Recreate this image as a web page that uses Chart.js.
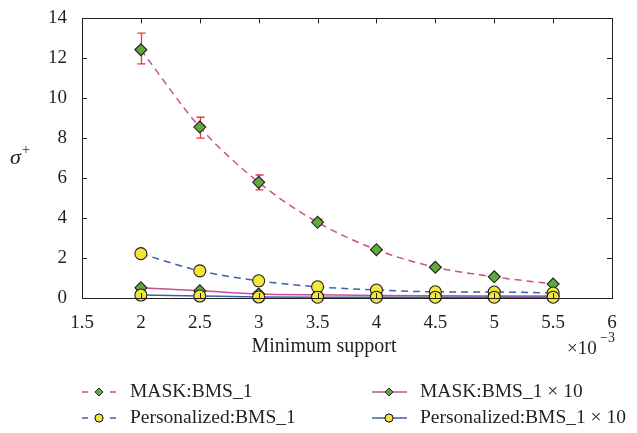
<!DOCTYPE html>
<html>
<head>
<meta charset="utf-8">
<script src="https://cdn.jsdelivr.net/npm/chart.js@4/dist/chart.umd.min.js"></script>
<style>
    html, body { margin: 0; padding: 0; background: #fff; }
    #wrap { width: 637px; height: 433px; position: relative; }
</style>
</head>
<body>
<div id="wrap"><canvas id="sigmaChart" width="637" height="433"></canvas></div>
<script>
(function () {
    var supports = [2, 2.5, 3, 3.5, 4, 4.5, 5, 5.5];
    var maskBms = [12.43, 8.56, 5.79, 3.79, 2.42, 1.54, 1.06, 0.70];
    var maskErrLow = [11.72, 8.01, 5.41, 3.65, 2.35, 1.50, 1.03, 0.68];
    var maskErrHigh = [13.26, 9.05, 6.16, 3.95, 2.50, 1.58, 1.09, 0.72];
    var persBms = [2.22, 1.36, 0.86, 0.56, 0.40, 0.31, 0.30, 0.25];
    var maskBms10 = [0.51, 0.36, 0.20, 0.16, 0.13, 0.11, 0.10, 0.10];
    var persBms10 = [0.15, 0.10, 0.05, 0.04, 0.04, 0.04, 0.04, 0.04];
    var xTicks = [1.5, 2, 2.5, 3, 3.5, 4, 4.5, 5, 5.5, 6];
    var yTicks = [0, 2, 4, 6, 8, 10, 12, 14];

    var ink = '#231f20';
    var pink = '#c9508f';
    var blue = '#3d5fae';
    var green = '#5cab3c';
    var yellow = '#f2e63a';
    var serif = "'Liberation Serif', 'DejaVu Serif', serif";

    Chart.defaults.font.family = serif;
    Chart.defaults.color = ink;

    function pts(ys) {
        return supports.map(function (x, i) { return { x: x, y: ys[i] }; });
    }

    var legendItems = [
        { label: 'MASK:BMS_1', color: pink, dash: [6, 22], shape: 'rectRot', fill: green, col: 0, row: 0 },
        { label: 'Personalized:BMS_1', color: blue, dash: [6, 22], shape: 'circle', fill: yellow, col: 0, row: 1 },
        { label: 'MASK:BMS_1 \u00d7 10', color: pink, dash: [], shape: 'rectRot', fill: green, col: 1, row: 0 },
        { label: 'Personalized:BMS_1 \u00d7 10', color: blue, dash: [], shape: 'circle', fill: yellow, col: 1, row: 1 }
    ];

    var framePlugin = {
        id: 'frame',
        beforeDatasetsDraw: function (chart) {
            var ctx = chart.ctx;
            var xs = chart.scales.x;
            var ys = chart.scales.y;

            // error bars on the MASK:BMS_1 series, under the markers
            ctx.save();
            ctx.strokeStyle = '#e8373f';
            ctx.lineWidth = 1.3;
            supports.forEach(function (s, i) {
                var px = Math.round(xs.getPixelForValue(s)) + 0.5;
                var y1 = ys.getPixelForValue(maskErrLow[i]);
                var y2 = ys.getPixelForValue(maskErrHigh[i]);
                ctx.beginPath();
                ctx.moveTo(px, y1); ctx.lineTo(px, y2);
                ctx.moveTo(px - 4, y1); ctx.lineTo(px + 4, y1);
                ctx.moveTo(px - 4, y2); ctx.lineTo(px + 4, y2);
                ctx.stroke();
            });
            ctx.restore();
        },
        afterDraw: function (chart) {
            var ctx = chart.ctx;
            var a = chart.chartArea;
            var xs = chart.scales.x;
            var ys = chart.scales.y;

            ctx.save();
            ctx.strokeStyle = ink;
            ctx.lineWidth = 1;
            ctx.strokeRect(Math.round(a.left) + 0.5, Math.round(a.top) + 0.5,
                Math.round(a.right - a.left), Math.round(a.bottom - a.top));

            ctx.beginPath();
            yTicks.forEach(function (v) {
                var py = Math.round(ys.getPixelForValue(v)) + 0.5;
                ctx.moveTo(a.left, py); ctx.lineTo(a.left + 5, py);
                ctx.moveTo(a.right, py); ctx.lineTo(a.right - 5, py);
            });
            xTicks.forEach(function (v) {
                var px = Math.round(xs.getPixelForValue(v)) + 0.5;
                ctx.moveTo(px, a.bottom); ctx.lineTo(px, a.bottom - 5);
                ctx.moveTo(px, a.top); ctx.lineTo(px, a.top + 5);
            });
            ctx.stroke();

            // axis titles
            ctx.fillStyle = ink;
            ctx.font = '20px ' + serif;
            ctx.textAlign = 'center';
            ctx.textBaseline = 'middle';
            ctx.fillText('Minimum support', 324, 347);

            ctx.font = 'italic 22px ' + serif;
            ctx.textAlign = 'left';
            ctx.fillText('\u03c3', 10, 158);
            ctx.font = '14px ' + serif;
            ctx.fillText('+', 22, 150);

            ctx.font = '19px ' + serif;
            ctx.textBaseline = 'alphabetic';
            ctx.fillText('\u00d710', 567, 354);
            ctx.font = '14px ' + serif;
            ctx.fillText('\u22123', 600, 342);

            // legend
            legendItems.forEach(function (it) {
                var x0 = it.col === 0 ? 82 : 372;
                var y0 = it.row === 0 ? 392 : 418;
                ctx.strokeStyle = it.color;
                ctx.lineWidth = 1.3;
                ctx.setLineDash(it.dash);
                ctx.beginPath();
                ctx.moveTo(x0, y0); ctx.lineTo(x0 + 35, y0);
                ctx.stroke();
                ctx.setLineDash([]);
                ctx.fillStyle = it.fill;
                ctx.strokeStyle = ink;
                ctx.lineWidth = 1;
                Chart.helpers.drawPoint(ctx, { pointStyle: it.shape, radius: 4, borderWidth: 1 }, x0 + 17, y0);
                ctx.fill();
                ctx.stroke();
                ctx.fillStyle = ink;
                ctx.font = '19.5px ' + serif;
                ctx.textBaseline = 'middle';
                ctx.fillText(it.label, x0 + 48, y0);
            });
            ctx.restore();
        }
    };

    function line(label, data, color, dashed, shape, fill) {
        return {
            label: label,
            data: pts(data),
            borderColor: color,
            borderWidth: 1.5,
            borderDash: dashed ? [7, 5] : [],
            cubicInterpolationMode: 'monotone',
            pointStyle: shape,
            pointRadius: 6,
            pointBackgroundColor: fill,
            pointBorderColor: ink,
            pointBorderWidth: 1.1,
            fill: false
        };
    }

    new Chart(document.getElementById('sigmaChart').getContext('2d'), {
        type: 'line',
        data: {
            datasets: [
                line('Personalized:BMS_1 \u00d7 10', persBms10, blue, false, 'circle', yellow),
                line('Personalized:BMS_1', persBms, blue, true, 'circle', yellow),
                line('MASK:BMS_1 \u00d7 10', maskBms10, pink, false, 'rectRot', green),
                line('MASK:BMS_1', maskBms, pink, true, 'rectRot', green)
            ]
        },
        options: {
            responsive: false,
            animation: false,
            clip: false,
            layout: { padding: { top: 16, right: 25, left: 0, bottom: 0 } },
            plugins: {
                legend: { display: false },
                tooltip: { enabled: false }
            },
            scales: {
                x: {
                    type: 'linear',
                    min: 1.5,
                    max: 6,
                    afterBuildTicks: function (s) {
                        s.ticks = xTicks.map(function (v) { return { value: v }; });
                    },
                    afterFit: function (s) { s.height = 135; },
                    grid: { display: false },
                    border: { display: false },
                    ticks: {
                        color: ink,
                        padding: 6,
                        maxRotation: 0,
                        font: { size: 19, family: serif },
                        callback: function (v) { return String(v); }
                    }
                },
                y: {
                    min: 0,
                    max: 14,
                    afterBuildTicks: function (s) {
                        s.ticks = yTicks.map(function (v) { return { value: v }; });
                    },
                    afterFit: function (s) { s.width = 82; },
                    grid: { display: false },
                    border: { display: false },
                    ticks: {
                        color: ink,
                        padding: 7,
                        font: { size: 19, family: serif },
                        callback: function (v) { return String(v); }
                    }
                }
            }
        },
        plugins: [framePlugin]
    });
})();
</script>
</body>
</html>
